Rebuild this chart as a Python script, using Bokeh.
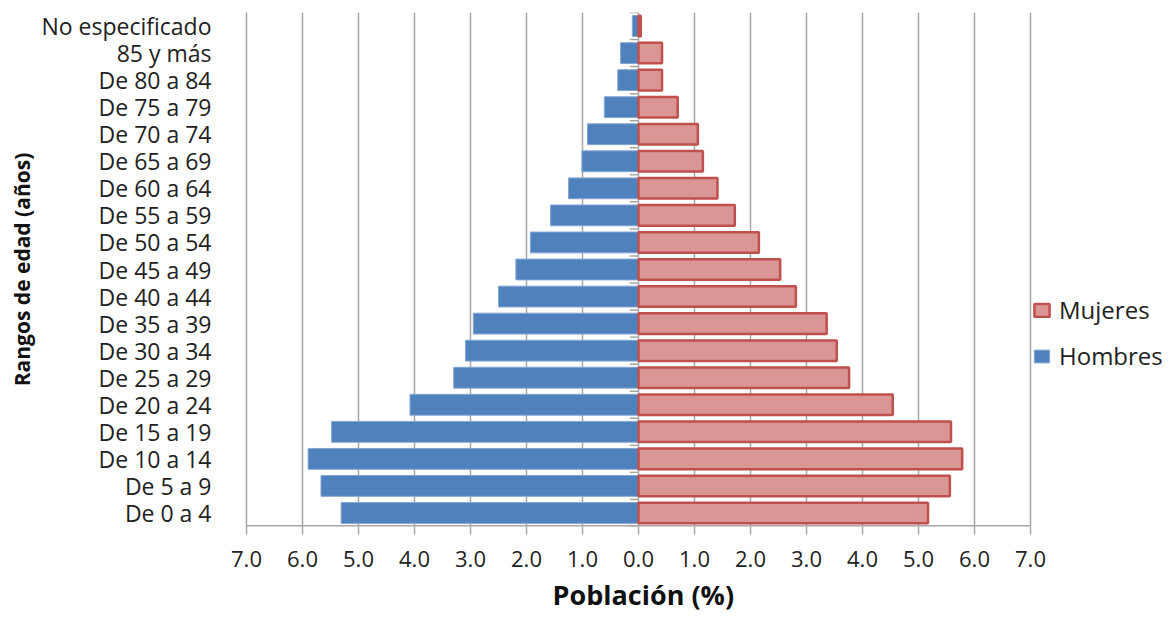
from bokeh.plotting import figure
from bokeh.models import (ColumnDataSource, FactorRange, Range1d, FixedTicker,
                          Legend, LegendItem, Title)
from bokeh.transform import dodge
from bokeh.embed import file_html
from bokeh.resources import INLINE

categories = ["De 0 a 4", "De 5 a 9", "De 10 a 14", "De 15 a 19", "De 20 a 24",
              "De 25 a 29", "De 30 a 34", "De 35 a 39", "De 40 a 44", "De 45 a 49",
              "De 50 a 54", "De 55 a 59", "De 60 a 64", "De 65 a 69", "De 70 a 74",
              "De 75 a 79", "De 80 a 84", "85 y más", "No especificado"]
hombres = [5.31, 5.67, 5.90, 5.48, 4.08, 3.30, 3.09, 2.95, 2.50, 2.19,
           1.93, 1.57, 1.25, 1.01, 0.91, 0.61, 0.37, 0.32, 0.11]
mujeres = [5.17, 5.56, 5.78, 5.58, 4.54, 3.76, 3.54, 3.36, 2.81, 2.53,
           2.15, 1.72, 1.41, 1.15, 1.06, 0.70, 0.42, 0.42, 0.04]
x_ticks = [-7, -6, -5, -4, -3, -2, -1, 0, 1, 2, 3, 4, 5, 6, 7]
x_tick_labels = ["7.0", "6.0", "5.0", "4.0", "3.0", "2.0", "1.0", "0.0",
                 "1.0", "2.0", "3.0", "4.0", "5.0", "6.0", "7.0"]

GRAY = "#A6A6A8"
FONT = "Open Sans"

src = ColumnDataSource(dict(cat=categories,
                            h=[-v for v in hombres],
                            m=mujeres,
                            zero=[0] * len(categories)))

# frame extends to the right edge so that the legend can sit beside the axis
p = figure(width=1170, height=618,
           y_range=FactorRange(*categories), x_range=Range1d(-7, 9.5),
           output_backend="svg", toolbar_location=None,
           min_border_left=246, min_border_right=0,
           min_border_top=12, min_border_bottom=92)
p.background_fill_color = "white"
p.border_fill_color = "white"
p.outline_line_color = None

# grid
p.xgrid.ticker = FixedTicker(ticks=x_ticks)
p.xgrid.grid_line_color = GRAY
p.xgrid.grid_line_width = 1.5
p.ygrid.visible = False

rh = p.hbar(y="cat", left="h", right="zero", height=0.77, source=src,
            fill_color="#4F81BD", line_color="#86A6D3", line_width=1)
rm = p.hbar(y="cat", left="zero", right="m", height=0.76, source=src,
            fill_color="#D99694", line_color="#C0504D", line_width=2.5)

# category-axis tick marks at x = 0 (at category boundaries)
tick_len = 0.155
p.segment(x0=-tick_len, x1=0, y0=dodge("cat", -0.5, range=p.y_range),
          y1=dodge("cat", -0.5, range=p.y_range), source=src,
          line_color=GRAY, line_width=1.5)
top_src = ColumnDataSource(dict(cat=[categories[-1]]))
p.segment(x0=-tick_len, x1=0, y0=dodge("cat", 0.5, range=p.y_range),
          y1=dodge("cat", 0.5, range=p.y_range), source=top_src,
          line_color=GRAY, line_width=1.5)

# value-axis line only across the value range
bot_src = ColumnDataSource(dict(cat=[categories[0]]))
p.segment(x0=x_ticks[0], x1=x_ticks[-1], y0=dodge("cat", -0.5, range=p.y_range),
          y1=dodge("cat", -0.5, range=p.y_range), source=bot_src,
          line_color=GRAY, line_width=3)

# x axis
xa = p.xaxis[0]
xa.ticker = FixedTicker(ticks=x_ticks)
xa.major_label_overrides = {t: l for t, l in zip(x_ticks, x_tick_labels)}
xa.axis_line_color = None
xa.major_tick_line_color = GRAY
xa.major_tick_line_width = 1.5
xa.major_tick_out = 8
xa.major_tick_in = 0
xa.minor_tick_line_color = None
xa.major_label_text_font = FONT
xa.major_label_text_font_size = "22px"
xa.major_label_text_color = "#222222"
xa.major_label_standoff = 16

p.add_layout(Title(text="Población (%)", align="left", offset=306,
                   text_font=FONT, text_font_style="bold", text_font_size="27px",
                   text_color="#111111", standoff=8), "below")

# y axis
ya = p.yaxis[0]
ya.axis_line_color = GRAY
ya.axis_line_width = 1.5
ya.major_tick_line_color = None
ya.major_tick_out = 0
ya.major_tick_in = 0
ya.minor_tick_line_color = None
ya.major_label_text_font = FONT
ya.major_label_text_font_size = "23px"
ya.major_label_text_color = "#222222"
ya.major_label_standoff = 35
ya.axis_label = "Rangos de edad (años)"
ya.axis_label_text_font = FONT
ya.axis_label_text_font_style = "bold"
ya.axis_label_text_font_size = "21px"
ya.axis_label_text_color = "#111111"
ya.axis_label_standoff = 2

legend = Legend(items=[LegendItem(label="Mujeres", renderers=[rm]),
                       LegendItem(label="Hombres", renderers=[rh])],
                location=(786, 154), orientation="vertical",
                padding=0, margin=0, spacing=13,
                glyph_width=19, glyph_height=16, label_height=28,
                label_standoff=8,
                label_text_font=FONT, label_text_font_size="24px",
                label_text_color="#222222",
                border_line_color=None, background_fill_alpha=0)
p.add_layout(legend)

open("out.html", "w").write(file_html(p, INLINE))
